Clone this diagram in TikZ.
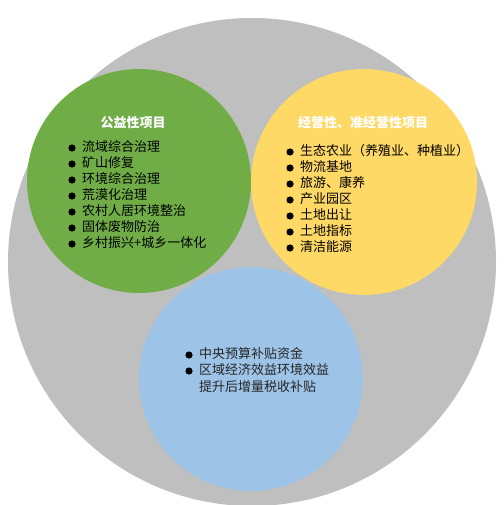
\documentclass[tikz,border=0pt]{standalone}
\usepackage{fontspec}
\setmainfont{Noto Sans CJK SC}
\usepackage{tikz}
\usetikzlibrary{positioning}

\definecolor{ringgray}{HTML}{BFBFBF}
\definecolor{pubgreen}{HTML}{70AD47}
\definecolor{opyellow}{HTML}{FFD966}
\definecolor{fundblue}{HTML}{9DC3E6}

\begin{document}
\begin{tikzpicture}[
  x=1bp, y=-1bp,
  ttl/.style={font=\fontsize{13bp}{16bp}\selectfont\bfseries, text=white, inner sep=0pt},
  itm/.style={anchor=west, font=\fontsize{13bp}{16bp}\selectfont, inner sep=0pt,
    text height=0.88em, text depth=0.12em},
  dot/.style={fill=black}
]
\useasboundingbox (0,0) rectangle (504,505);

% circles
\fill[ringgray] (252,262) circle (244);
\fill[pubgreen] (139,181) circle (112);
\fill[opyellow] (364,182) circle (113);
\fill[fundblue] (251,379) circle (112);

% public welfare projects
\node[ttl] (gt) at (133,123) {公益性项目};
\node[itm] (g1) at (82,148) {流域综合治理};
\node[itm] (g2) at (82,164) {矿山修复};
\node[itm] (g3) at (82,180) {环境综合治理};
\node[itm] (g4) at (82,196) {荒漠化治理};
\node[itm] (g5) at (82,212) {农村人居环境整治};
\node[itm] (g6) at (82,228) {固体废物防治};
\node[itm] (g7) at (82,244) {乡村振兴+城乡一体化};

% operating projects
\node[ttl] (yt) at (363,123) {经营性、准经营性项目};
\node[itm] (y1) at (300,152) {生态农业（养殖业、种植业）};
\node[itm] (y2) at (300,168) {物流基地};
\node[itm] (y3) at (300,184) {旅游、康养};
\node[itm] (y4) at (300,200) {产业园区};
\node[itm] (y5) at (300,216) {土地出让};
\node[itm] (y6) at (300,232) {土地指标};
\node[itm] (y7) at (300,248) {清洁能源};

% funding
\node[itm, text=black!85] (b1) at (199,355) {中央预算补贴资金};
\node[itm, text=black!85] (b2) at (199,371) {区域经济效益环境效益};
\node[itm, text=black!85] (b3) at (199,388) {提升后增量税收补贴};

% bullets
\fill[dot] ([xshift=-10bp]g1.west) circle (3.6bp);
\fill[dot] ([xshift=-10bp]g2.west) circle (3.6bp);
\fill[dot] ([xshift=-10bp]g3.west) circle (3.6bp);
\fill[dot] ([xshift=-10bp]g4.west) circle (3.6bp);
\fill[dot] ([xshift=-10bp]g5.west) circle (3.6bp);
\fill[dot] ([xshift=-10bp]g6.west) circle (3.6bp);
\fill[dot] ([xshift=-10bp]g7.west) circle (3.6bp);
\fill[dot] ([xshift=-10bp]y1.west) circle (3.6bp);
\fill[dot] ([xshift=-10bp]y2.west) circle (3.6bp);
\fill[dot] ([xshift=-10bp]y3.west) circle (3.6bp);
\fill[dot] ([xshift=-10bp]y4.west) circle (3.6bp);
\fill[dot] ([xshift=-10bp]y5.west) circle (3.6bp);
\fill[dot] ([xshift=-10bp]y6.west) circle (3.6bp);
\fill[dot] ([xshift=-10bp]y7.west) circle (3.6bp);
\fill[dot] ([xshift=-10bp]b1.west) circle (3.6bp);
\fill[dot] ([xshift=-10bp]b2.west) circle (3.6bp);

\end{tikzpicture}
\end{document}
